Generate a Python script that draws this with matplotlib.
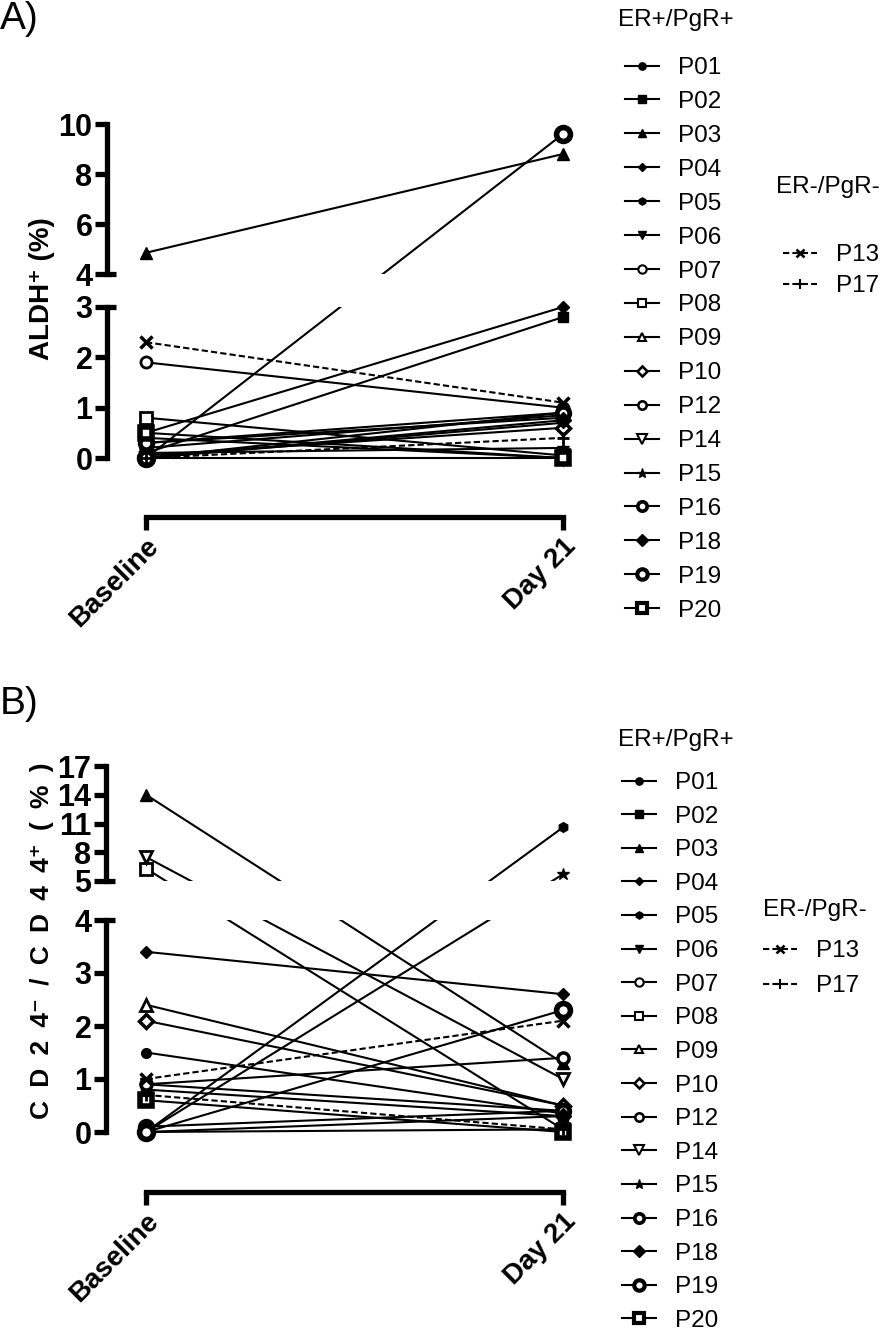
import numpy as np
import matplotlib
matplotlib.use('Agg')
import matplotlib.pyplot as plt
from matplotlib.lines import Line2D

# ---------------- data ----------------
patients_pos = ['P01', 'P02', 'P03', 'P04', 'P05', 'P06', 'P07', 'P08', 'P09',
                'P10', 'P12', 'P14', 'P15', 'P16', 'P18', 'P19', 'P20']
patients_neg = ['P13', 'P17']
timepoints = ['Baseline', 'Day 21']

aldh_base_pos = [0.0, 0.1, 4.85, 0.5, 0.3, 0.0, 1.9, 0.8, 0.4, 0.05, 0.2, 0.0, 0.1, 0.3, 0.0, 0.0, 0.5]
aldh_d21_pos = [0.9, 2.8, 8.8, 3.0, 0.8, 0.7, 1.0, 0.05, 0.0, 0.6, 0.85, 0.0, 0.2, 0.9, 0.75, 9.6, 0.0]
aldh_base_neg = [2.3, 0.0]
aldh_d21_neg = [1.1, 0.4]

cd_base_pos = [1.5, 0.8, 14.0, 3.4, 0.0, 0.9, 0.0, 6.3, 2.4, 2.1, 0.9, 7.5, 0.0, 0.1, 0.0, 0.0, 0.6]
cd_d21_pos = [0.35, 0.3, 1.3, 2.6, 10.6, 0.4, 0.05, 0.05, 0.5, 0.5, 1.4, 1.0, 5.7, 0.4, 0.3, 2.3, 0.0]
cd_base_neg = [1.0, 0.7]
cd_d21_neg = [2.1, 0.05]

aldh_ticks = [0, 1, 2, 3, 4, 6, 8, 10]
cd_ticks = [0, 1, 2, 3, 4, 5, 8, 11, 14, 17]

# ---------------- styles ----------------
W, H, DPI = 894, 1336, 100
styles = {
    'P01': dict(marker='o', ms=7, mfc='k', mew=1),
    'P02': dict(marker='s', ms=7, mfc='k', mew=1),
    'P03': dict(marker='^', ms=8, mfc='k', mew=1),
    'P04': dict(marker='D', ms=6, mfc='k', mew=1),
    'P05': dict(marker='h', ms=7, mfc='k', mew=1),
    'P06': dict(marker='v', ms=8, mfc='k', mew=1),
    'P07': dict(marker='o', ms=8, mfc='w', mew=2),
    'P08': dict(marker='s', ms=8, mfc='w', mew=2),
    'P09': dict(marker='^', ms=8, mfc='w', mew=2),
    'P10': dict(marker='D', ms=7, mfc='w', mew=2.5),
    'P12': dict(marker='o', ms=8, mfc='w', mew=2.5),
    'P14': dict(marker='v', ms=9, mfc='w', mew=2),
    'P15': dict(marker='*', ms=9, mfc='k', mew=1),
    'P16': dict(marker='o', ms=9, mfc='w', mew=3.5),
    'P18': dict(marker='D', ms=8, mfc='k', mew=1),
    'P19': dict(marker='o', ms=10, mfc='w', mew=4),
    'P20': dict(marker='s', ms=9, mfc='w', mew=4),
    'P13': dict(marker='x', ms=8, mfc='k', mew=2.5),
    'P17': dict(marker='+', ms=9, mfc='k', mew=2),
}
DASH = (0, (3, 1.5))
AX_LW = 3.8
TICK_FONT = ['Liberation Sans Narrow', 'Liberation Sans', 'DejaVu Sans']
TEXT_FONT = ['Liberation Sans', 'DejaVu Sans']


def piecewise(vals, us):
    vals = np.asarray(vals, float)
    us = np.asarray(us, float)
    s0 = (us[1] - us[0]) / (vals[1] - vals[0])
    s1 = (us[-1] - us[-2]) / (vals[-1] - vals[-2])

    def fwd(v):
        v = np.asarray(v, float)
        out = np.interp(v, vals, us)
        out = np.where(v < vals[0], us[0] + (v - vals[0]) * s0, out)
        out = np.where(v > vals[-1], us[-1] + (v - vals[-1]) * s1, out)
        return out

    def inv(u):
        u = np.asarray(u, float)
        out = np.interp(u, us, vals)
        out = np.where(u < us[0], vals[0] + (u - us[0]) / s0, out)
        out = np.where(u > us[-1], vals[-1] + (u - us[-1]) / s1, out)
        return out
    return fwd, inv


def px_axes(fig, left, right, top, bottom):
    return fig.add_axes([left / W, 1 - bottom / H, (right - left) / W, (bottom - top) / H])


fig = plt.figure(figsize=(W / DPI, H / DPI), dpi=DPI)


def panel(top, bottom, seg_lo, seg_hi, vals, us, zero_px, ticks,
          base_pos, d21_pos, base_neg, d21_neg, axis_x=107):
    ax = px_axes(fig, axis_x, 600, top, bottom)
    fwd, inv = piecewise(vals, us)
    ax.set_yscale('function', functions=(fwd, inv))
    x0, x1 = 146, 563
    sc = x1 - x0
    ax.set_xlim((axis_x - x0) / sc, (600 - x0) / sc)
    ax.set_ylim(float(inv(-(bottom - zero_px))), float(inv(zero_px - top)))

    xs = [0, 1]
    for name, b, d in zip(patients_pos, base_pos, d21_pos):
        st = styles[name]
        ax.plot(xs, [b, d], color='k', lw=1.5, zorder=2)
        ax.plot(xs, [b, d], ls='none', color='k', marker=st['marker'], ms=st['ms'],
                mfc=st['mfc'], mec='k', mew=st['mew'], zorder=4, clip_on=False)
    for name, b, d in zip(patients_neg, base_neg, d21_neg):
        st = styles[name]
        ax.plot(xs, [b, d], color='k', lw=1.5, ls=DASH, zorder=2)
        ax.plot(xs, [b, d], ls='none', color='k', marker=st['marker'], ms=st['ms'],
                mfc=st['mfc'], mec='k', mew=st['mew'], zorder=4, clip_on=False)

    # gap of the broken axis
    ax.axhspan(seg_lo[1], seg_hi[0], color='white', zorder=3, lw=0)

    for s in ['left', 'top', 'right']:
        ax.spines[s].set_visible(False)
    yt = ax.get_yaxis_transform()
    for lo, hi in [seg_lo, seg_hi]:
        ax.plot([0, 0], [lo, hi], color='k', lw=AX_LW, transform=yt,
                clip_on=False, solid_capstyle='projecting', zorder=5)
    capw = 9 / (600 - axis_x)
    for yv in [seg_lo[1], seg_hi[0]]:
        ax.plot([0, capw], [yv, yv], color='k', lw=AX_LW, transform=yt,
                clip_on=False, solid_capstyle='butt', zorder=5)

    ax.set_yticks(ticks)
    ax.set_yticklabels([str(t) for t in ticks])
    ax.yaxis.set_minor_locator(matplotlib.ticker.NullLocator())
    ax.tick_params(axis='y', direction='out', length=8.5, width=AX_LW, pad=2)
    for lbl in ax.get_yticklabels():
        lbl.set_fontfamily(TICK_FONT)
        lbl.set_fontweight('bold')
        lbl.set_fontsize(22)

    ax.spines['bottom'].set_position(('outward', 47 * 72 / DPI))
    ax.spines['bottom'].set_bounds(0, 1)
    ax.spines['bottom'].set_linewidth(AX_LW)
    ax.spines['bottom'].set_capstyle('projecting')
    ax.set_xticks(xs)
    ax.set_xticklabels(timepoints)
    ax.tick_params(axis='x', direction='out', length=9, width=AX_LW, pad=3)
    for lbl in ax.get_xticklabels():
        lbl.set_fontfamily(TICK_FONT)
        lbl.set_fontweight('bold')
        lbl.set_fontsize(20)
        lbl.set_rotation(45)
        lbl.set_ha('right')
        lbl.set_va('top')
        lbl.set_rotation_mode('anchor')
    ax.patch.set_visible(False)
    return ax


axA = panel(115, 470, (0, 3), (4, 10), [0, 3, 4, 10], [0, 151, 184, 334], 458,
            aldh_ticks, aldh_base_pos, aldh_d21_pos, aldh_base_neg, aldh_d21_neg)
axB = panel(755, 1145, (0, 4), (5, 17), [0, 4, 5, 17], [0, 212, 251, 366], 1132,
            cd_ticks, cd_base_pos, cd_d21_pos, cd_base_neg, cd_d21_neg, axis_x=106)

# panel labels and y titles
fig.text(0 / W, 1 - 1 / H, 'A)', fontsize=28, va='top', ha='left', family=TEXT_FONT)
fig.text(0 / W, 1 - 686 / H, 'B)', fontsize=28, va='top', ha='left', family=TEXT_FONT)
fig.text(42 / W, 1 - 289 / H, 'ALDH\u207a (%)', rotation=90, fontsize=20, fontweight='bold',
         ha='center', va='center', family=TEXT_FONT)
sp = '\u2002'
ylabB = sp.join(['C', 'D', '2', '4\u207b', '/', 'C', 'D', '4', '4\u207a', '(', '%', ')'])
fig.text(42 / W, 1 - 941 / H, ylabB, rotation=90, fontsize=19, fontweight='bold',
         ha='center', va='center', family=TEXT_FONT)


def handles_for(names, dashed=False):
    hs = []
    for n in names:
        st = styles[n]
        hs.append(Line2D([], [], color='k', lw=1.5, ls=DASH if dashed else '-',
                         marker=st['marker'], ms=st['ms'] * 0.75, mfc=st['mfc'], mec='k',
                         mew=max(1, st['mew'] * 0.75)))
    return hs


LEG_FS = 17.5


def legend(names, dashed, x_left, y_first, spacing, title, title_x, title_y):
    fs = LEG_FS
    fs_px = fs * DPI / 72
    row_h = 0.905 * fs_px
    ls = (spacing - row_h) / fs_px
    leg = fig.legend(handles_for(names, dashed), names, loc='upper left',
                     bbox_to_anchor=(x_left / W, 1 - (y_first + 3 - row_h / 2) / H),
                     frameon=False, borderpad=0, borderaxespad=0, handlelength=1.4,
                     handletextpad=0.8, labelspacing=ls, prop={'family': TEXT_FONT, 'size': fs})
    fig.text(title_x / W, 1 - title_y / H, title, fontsize=LEG_FS, ha='left', va='center',
             family=TEXT_FONT)
    return leg


legend(patients_pos, False, 625, 65, 33.9, 'ER+/PgR+', 618, 20)
legend(patients_neg, True, 783, 252, 31, 'ER-/PgR-', 776, 187)
legend(patients_pos, False, 622, 780, 33.6, 'ER+/PgR+', 618, 740)
legend(patients_neg, True, 763, 948, 35, 'ER-/PgR-', 763, 910)

fig.savefig('out.png', dpi=DPI)
